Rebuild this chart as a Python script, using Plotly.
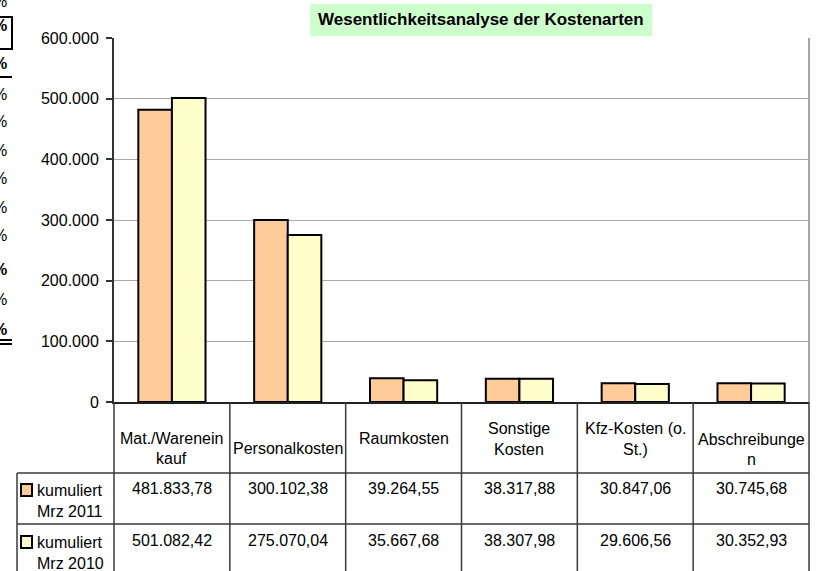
import plotly.graph_objects as go

# ---------------- data ----------------
categories = ["Mat./Wareneinkauf", "Personalkosten", "Raumkosten",
              "Sonstige Kosten", "Kfz-Kosten (o. St.)", "Abschreibungen"]
header_labels = ["Mat./Warenein\nkauf", "Personalkosten", "Raumkosten",
                 "Sonstige\nKosten", "Kfz-Kosten (o.\nSt.)", "Abschreibunge\nn"]
series_names = ["kumuliert\nMrz 2011", "kumuliert\nMrz 2010"]
mrz2011 = [481833.78, 300102.38, 39264.55, 38317.88, 30847.06, 30745.68]
mrz2010 = [501082.42, 275070.04, 35667.68, 38307.98, 29606.56, 30352.93]
title_text = "Wesentlichkeitsanalyse der Kostenarten"

# ---------------- layout geometry (pixels) ----------------
W, H = 820, 571
L, R, T, B = 114, 809, 38, 402
PW, PH = R - L, B - T


def px(x):
    return (x - L) / PW


def py(y):
    return (B - y) / PH


def de(v):
    s = f"{v:,.2f}"
    return s.replace(",", "X").replace(".", ",").replace("X", ".")


FONT = "Arial, Liberation Sans, sans-serif"
colors = ["#ffcc99", "#ffffcc"]
series = [mrz2011, mrz2010]

fig = go.Figure()
for name, vals, col in zip(series_names, series, colors):
    fig.add_trace(go.Bar(
        x=categories, y=vals, name=name.replace("\n", " "),
        marker=dict(color=col, line=dict(color="#000000", width=2)),
        showlegend=False,
    ))

shapes = []
annotations = []

# title background + text
shapes.append(dict(type="rect", xref="paper", yref="paper", layer="below",
                   x0=px(310), x1=px(652), y0=py(36), y1=py(4),
                   fillcolor="#ccffcc", line=dict(width=0)))
annotations.append(dict(text="<b>" + title_text + "</b>", xref="paper", yref="paper",
                        x=px(481), y=py(20), xanchor="center", yanchor="middle",
                        showarrow=False, font=dict(family=FONT, size=17, color="#000")))

# right border of plot area
shapes.append(dict(type="line", xref="paper", yref="paper", x0=1, x1=1, y0=0, y1=1,
                   line=dict(color="#a6a6a6", width=2)))

# table lines
TL = "#3a3a3a"
col_edges = [L + i * PW / len(categories) for i in range(len(categories) + 1)]
for xe in col_edges:
    shapes.append(dict(type="line", xref="paper", yref="paper",
                       x0=px(xe), x1=px(xe), y0=py(402), y1=py(575),
                       line=dict(color=TL, width=1.5)))
for ye in (473, 524):
    shapes.append(dict(type="line", xref="paper", yref="paper",
                       x0=px(17), x1=px(R), y0=py(ye), y1=py(ye),
                       line=dict(color=TL, width=1.5)))
shapes.append(dict(type="line", xref="paper", yref="paper",
                   x0=px(17), x1=px(17), y0=py(473), y1=py(575),
                   line=dict(color=TL, width=1.5)))

# header texts (line-by-line, Excel-like vertical placement)
header_first_y = [438, 448, 438, 428, 428, 439]
LINE = 21
for i, (cat, lab) in enumerate(zip(categories, header_labels)):
    for k, line in enumerate(lab.split("\n")):
        annotations.append(dict(text=line, xref="x", yref="paper", x=cat,
                                y=py(header_first_y[i] + k * LINE),
                                xanchor="center", yanchor="middle", showarrow=False,
                                font=dict(family=FONT, size=16, color="#000")))

# value rows
row_y = [488, 540]
for r, vals in enumerate(series):
    for cat, v in zip(categories, vals):
        annotations.append(dict(text=de(v), xref="x", yref="paper", x=cat, y=py(row_y[r]),
                                xanchor="center", yanchor="middle", showarrow=False,
                                font=dict(family=FONT, size=16, color="#000")))
    # legend key
    yk = row_y[r] + 2
    shapes.append(dict(type="rect", xref="paper", yref="paper",
                       x0=px(21), x1=px(32), y0=py(yk + 6), y1=py(yk - 6),
                       fillcolor=colors[r], line=dict(color="#000", width=2)))
    for k, line in enumerate(series_names[r].split("\n")):
        annotations.append(dict(text=line, xref="paper", yref="paper", x=px(35),
                                y=py(row_y[r] + 2 + k * 21), xanchor="left", yanchor="middle",
                                showarrow=False, font=dict(family=FONT, size=16, color="#000")))

# partially visible spreadsheet cells at the left edge
pct_rows = [5, 29, 67, 97, 125, 153, 182, 210, 238, 272, 302, 332]
pct_bold = [False, True, True, False, False, False, False, False, False, True, False, True]
for yy, bb in zip(pct_rows, pct_bold):
    annotations.append(dict(text=("<b>%</b>" if bb else "%"), xref="paper", yref="paper",
                            x=px(8), y=py(yy - 3), xanchor="right", yanchor="middle",
                            showarrow=False, borderpad=0,
                            font=dict(family=FONT, size=16, color="#000")))
shapes.append(dict(type="rect", xref="paper", yref="paper",
                   x0=px(-6), x1=px(12), y0=py(49), y1=py(17),
                   line=dict(color="#000", width=2)))
for yy in (77, 340, 344):
    shapes.append(dict(type="line", xref="paper", yref="paper",
                       x0=px(-2), x1=px(12), y0=py(yy), y1=py(yy),
                       line=dict(color="#000", width=2)))

fig.update_layout(
    width=W, height=H, autosize=False,
    margin=dict(l=L, r=W - R, t=T, b=H - B, pad=0),
    paper_bgcolor="white", plot_bgcolor="white",
    separators=",.",
    barmode="group", bargap=0.42, bargroupgap=0,
    font=dict(family=FONT, size=16, color="#000"),
    shapes=shapes, annotations=annotations,
    xaxis=dict(showticklabels=False, showgrid=False, zeroline=False,
               showline=True, linecolor="#222", linewidth=2,
               range=[-0.5, len(categories) - 0.5], fixedrange=True),
    yaxis=dict(range=[0, 600000], dtick=100000, tickformat=",d",
               showgrid=True, gridcolor="#a9a9a9", gridwidth=1,
               zeroline=False, showline=True, linecolor="#333", linewidth=2,
               ticks="outside", ticklen=6, tickcolor="#333", tickwidth=1.5,
               ticklabelstandoff=4,
               tickfont=dict(family=FONT, size=16, color="#000"), fixedrange=True),
)

fig.write_html("out.html", config={"displayModeBar": False},
               post_script="document.body.style.margin='0';document.body.style.padding='0';")
